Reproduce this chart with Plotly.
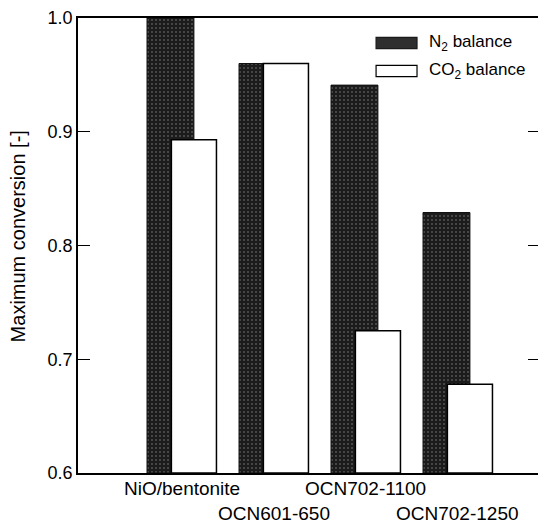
import plotly.graph_objects as go

categories = ["NiO/bentonite", "OCN601-650", "OCN702-1100", "OCN702-1250"]
n2_balance = [1.0, 0.960, 0.941, 0.829]
co2_balance = [0.893, 0.960, 0.725, 0.678]
y_ticks = [0.6, 0.7, 0.8, 0.9, 1.0]
y_tick_labels = ["0.6", "0.7", "0.8", "0.9", "1.0"]
label_rows = [0, 1, 0, 1]

FONT = "Arial, Liberation Sans, Helvetica, sans-serif"

fig = go.Figure()
fig.add_trace(go.Bar(
    x=categories, y=[v - 0.6 for v in n2_balance], base=0.6,
    name="N<sub>2</sub> balance",
    width=0.51, offset=-0.38,
    marker=dict(color="#1c1c1c",
                line=dict(color="#111", width=1),
                pattern=dict(shape=".", fgcolor="#8c8c8c", bgcolor="#1c1c1c",
                             size=4, solidity=0.2)),
))
fig.add_trace(go.Bar(
    x=categories, y=[v - 0.6 for v in co2_balance], base=0.6,
    name="CO<sub>2</sub> balance",
    width=0.49, offset=-0.115,
    marker=dict(color="white", line=dict(color="black", width=1.5)),
))

# right-side inward ticks
fig.add_trace(go.Scatter(x=[None], y=[None], yaxis="y2", showlegend=False))

fig.update_layout(
    width=538, height=525,
    margin=dict(l=78, r=0, t=18, b=52),
    paper_bgcolor="white", plot_bgcolor="white",
    barmode="overlay", showlegend=False,
    font=dict(family=FONT, size=18, color="black"),
    xaxis=dict(range=[-1.13, 3.87], showticklabels=False, ticks="",
               showline=True, linecolor="black", linewidth=1.5, mirror=True,
               showgrid=False, zeroline=False),
    yaxis=dict(range=[0.6, 1.0], tickvals=y_ticks, ticktext=y_tick_labels,
               ticks="inside", ticklen=12, tickwidth=1.2, tickcolor="black",
               showline=True, linecolor="black", linewidth=1.5,
               showgrid=False, zeroline=False,
               tickfont=dict(family=FONT, size=18)),
    yaxis2=dict(range=[0.6, 1.0], overlaying="y", side="right",
                tickvals=y_ticks, ticks="inside", ticklen=10, tickwidth=1.2,
                tickcolor="black", showticklabels=False, showline=False,
                showgrid=False, zeroline=False),
)

# staggered category labels
for cat, row in zip(categories, label_rows):
    fig.add_annotation(x=cat, xref="x", y=0, yref="paper", text=cat,
                       showarrow=False, yanchor="middle",
                       yshift=-15 - 25 * row,
                       font=dict(family=FONT, size=19, color="black"))

# y title
fig.add_annotation(x=0, xref="paper", xshift=-60, y=0.52, yref="paper",
                   text="Maximum conversion [-]", textangle=-90, showarrow=False,
                   xanchor="center", yanchor="middle",
                   font=dict(family=FONT, size=20, color="black"))

# legend
legend_items = [("N<sub>2</sub> balance", 0.945, "#2e2e2e", "#1a1a1a"),
                ("CO<sub>2</sub> balance", 0.8835, "white", "black")]
for text, yc, fill, edge in legend_items:
    fig.add_shape(type="rect", xref="paper", yref="paper",
                  x0=0.648, x1=0.737, y0=yc - 0.0125, y1=yc + 0.0125,
                  fillcolor=fill, line=dict(color=edge, width=1.2))
    fig.add_annotation(x=0.759, xref="paper", y=yc, yref="paper", text=text,
                       showarrow=False, xanchor="left", yanchor="middle",
                       font=dict(family=FONT, size=17, color="black"))

fig.write_html("out.html")
